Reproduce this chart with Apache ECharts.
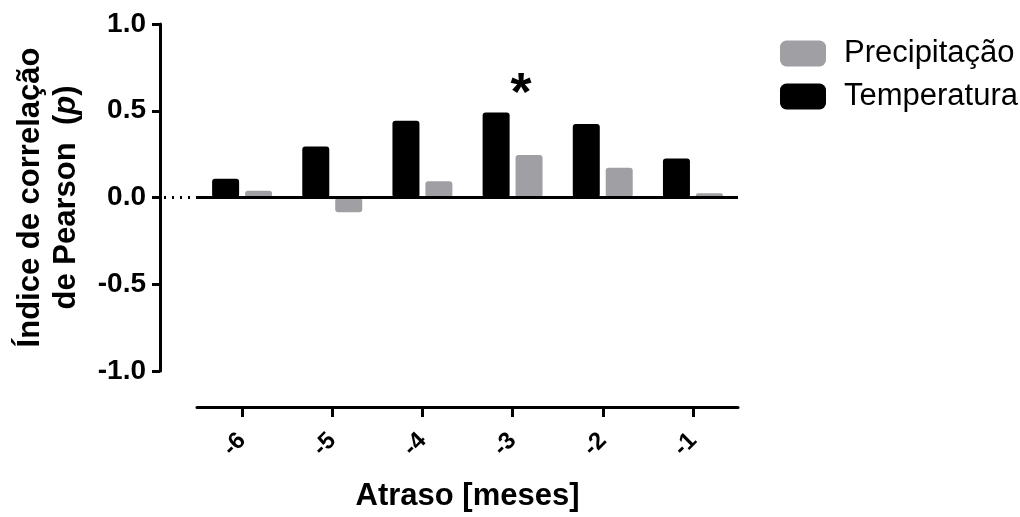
<!DOCTYPE html>
<html>
<head>
<meta charset="utf-8">
<script src="https://cdn.jsdelivr.net/npm/echarts@6/dist/echarts.min.js"></script>
<style>
  html, body { margin: 0; padding: 0; background: #fff; }
  #chart { width: 1020px; height: 517px; }
</style>
</head>
<body>
<div id="chart"></div>
<script>
// lag in months
const categories = ['-6', '-5', '-4', '-3', '-2', '-1']
// Pearson correlation per lag
const temperatura = [0.108, 0.294, 0.443, 0.49, 0.424, 0.225]
const precipitacao = [0.039, -0.085, 0.094, 0.245, 0.171, 0.024]
// significance marker
const starCategory = '-3'
const starValue = 0.62
const yTicks = [-1, -0.5, 0, 0.5, 1]

const font = '"Liberation Sans", Arial, sans-serif'
const gridLeft = 197
const yOffset = 37

const chart = echarts.init(document.getElementById('chart'))

const option = {
  animation: false,
  backgroundColor: '#fff',
  textStyle: { fontFamily: font },
  grid: { left: gridLeft, right: 282, top: 24, bottom: 144 },
  legend: {
    data: ['Precipitação', 'Temperatura'],
    orient: 'vertical',
    left: 775,
    top: 33,
    itemWidth: 46,
    itemHeight: 26,
    itemGap: 12,
    icon: 'roundRect',
    textStyle: { fontSize: 31, color: '#000', fontFamily: font, padding: [0, 0, 0, 13] }
  },
  xAxis: {
    type: 'category',
    data: categories,
    position: 'bottom',
    offset: 36,
    axisLine: { show: true, onZero: false, lineStyle: { color: '#000', width: 3 } },
    axisTick: { show: true, alignWithLabel: true, length: 10, lineStyle: { color: '#000', width: 3 } },
    axisLabel: { rotate: 45, fontSize: 24, fontWeight: 'bold', color: '#000', margin: 30, fontFamily: font },
    name: 'Atraso [meses]',
    nameLocation: 'middle',
    nameGap: 74,
    nameTextStyle: { fontSize: 31, fontWeight: 'bold', color: '#000', fontFamily: font }
  },
  yAxis: {
    type: 'value',
    min: yTicks[0],
    max: yTicks[yTicks.length - 1],
    interval: 0.5,
    offset: yOffset,
    axisLine: { show: true, lineStyle: { color: '#000', width: 3 } },
    axisTick: { show: true, length: 8, lineStyle: { color: '#000', width: 3 } },
    splitLine: { show: false },
    axisLabel: {
      fontSize: 28, fontWeight: 'bold', color: '#000', margin: 14, fontFamily: font,
      formatter: v => v.toFixed(1)
    },
    name: '{a|Índice de correlação}\n{a|de Pearson  (}{i|p}{a|)}',
    nameLocation: 'middle',
    nameRotate: 90,
    nameGap: 76,
    nameTextStyle: {
      color: '#000',
      lineHeight: 36,
      rich: {
        a: { fontSize: 31, fontWeight: 'bold', color: '#000', fontFamily: font, lineHeight: 36 },
        i: { fontSize: 31, fontWeight: 'bold', fontStyle: 'italic', color: '#000', fontFamily: font, lineHeight: 36 }
      }
    }
  },
  series: [
    {
      name: 'Temperatura',
      type: 'bar',
      data: temperatura,
      barWidth: 27,
      barGap: '22%',
      itemStyle: { color: '#000', borderRadius: 3 },
      markLine: {
        silent: true,
        symbol: 'none',
        label: { show: false },
        lineStyle: { color: '#000', width: 3, type: 'solid' },
        data: [{ yAxis: 0 }]
      },
      markPoint: {
        silent: true,
        data: [{
          coord: [starCategory, starValue],
          symbol: 'circle',
          symbolSize: 1,
          itemStyle: { color: 'transparent' },
          label: {
            show: true,
            formatter: '*',
            fontSize: 54,
            fontWeight: 'bold',
            color: '#000',
            fontFamily: font,
            position: 'inside',
            offset: [25, 5]
          }
        }]
      }
    },
    {
      name: 'Precipitação',
      type: 'bar',
      data: precipitacao,
      barWidth: 27,
      itemStyle: { color: '#a0a0a4', borderRadius: 3 }
    }
  ]
}

chart.setOption(option)

// dotted zero line between the offset y axis and the plot area
const y0 = chart.convertToPixel({ yAxisIndex: 0 }, 0)
chart.setOption({
  graphic: [{
    type: 'line',
    silent: true,
    shape: { x1: gridLeft - yOffset + 4, y1: y0, x2: gridLeft, y2: y0 },
    style: { stroke: '#000', lineWidth: 3, lineDash: [2, 6] }
  }]
})
</script>
</body>
</html>
